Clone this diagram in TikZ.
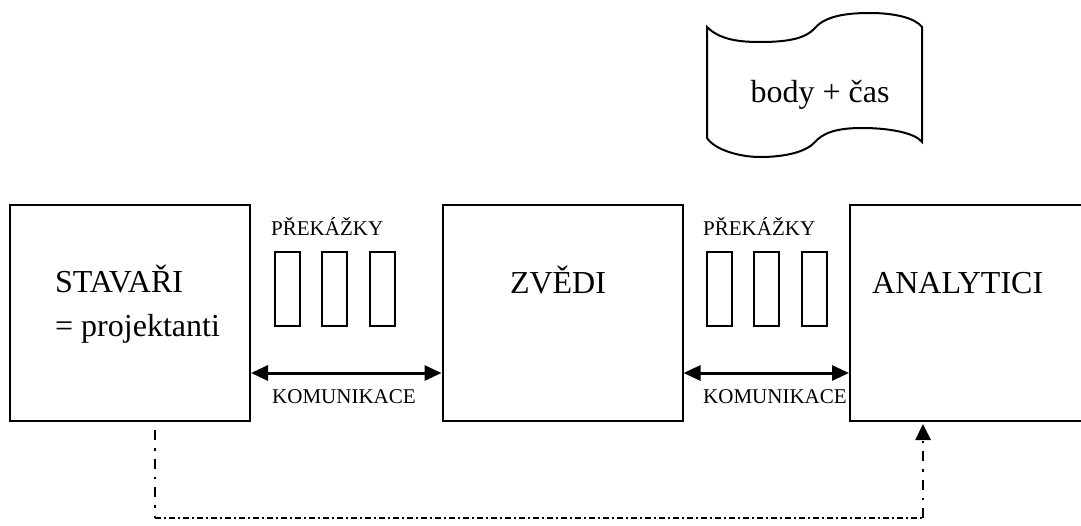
\documentclass[tikz,border=0pt]{standalone}
\usepackage{fontspec}
\setmainfont{Liberation Serif}
\usetikzlibrary{arrows.meta}
\begin{document}
\begin{tikzpicture}[x=1pt,y=-1pt,
  bigtext/.style={font=\fontsize{32}{38}\selectfont, inner sep=0pt},
  smalltext/.style={font=\fontsize{21}{25}\selectfont, inner sep=0pt},
  actor/.style={draw, line width=2pt, minimum width=240pt, minimum height=216pt, inner sep=0pt},
  barrier/.style={draw, line width=2pt, minimum width=25pt, minimum height=74pt, inner sep=0pt},
  comm/.style={line width=3pt, {Triangle[width=15pt,length=17pt]}-{Triangle[width=15pt,length=17pt]}},
  feedback/.style={line width=2.6pt, dash pattern=on 10pt off 8pt on 2.5pt off 8pt},
  feedbackh/.style={line width=2.4pt, dash pattern=on 6pt off 3pt on 2pt off 3pt}
]
\useasboundingbox (0,0) rectangle (1081,525);

% the three parties
\node[actor] (stav) at (130,313) {};
\node[actor] (zved) at (562.5,313) {};
\node[actor] (anal) at (970,313) {};
\fill[white] (1082,190) rectangle (1100,440);

\node[bigtext, anchor=base west] (stavT) at (55,292) {STAVAŘI};
\node[bigtext, anchor=base west] (stavP) at (55,336) {= projektanti};
\node[bigtext, anchor=base] (zvedT) at (558,293) {ZVĚDI};
\node[bigtext, anchor=base west] (analT) at (872,293) {ANALYTICI};

% obstacles between the parties
\node[smalltext, anchor=base west] (p1) at (271,235) {PŘEKÁŽKY};
\node[barrier] (b11) at (287,289) {};
\node[barrier] (b12) at (334.5,289) {};
\node[barrier] (b13) at (382.5,289) {};
\node[smalltext, anchor=base west] (p2) at (703,235) {PŘEKÁŽKY};
\node[barrier] (b21) at (719,289) {};
\node[barrier] (b22) at (766.5,289) {};
\node[barrier] (b23) at (814.5,289) {};

% communication channels
\coordinate (c1a) at (stav.east |- 0,373);
\coordinate (c1b) at (zved.west |- 0,373);
\coordinate (c2a) at (zved.east |- 0,373);
\coordinate (c2b) at (anal.west |- 0,373);
\draw[comm] (c1a) -- (c1b);
\draw[comm] (c2a) -- (c2b);
\node[smalltext, anchor=base west] (k1) at (272,403) {KOMUNIKACE};
\node[smalltext, anchor=base west] (k2) at (703,403) {KOMUNIKACE};

% document: points + time
\draw[line width=2pt]
  (707,27) .. controls (720,40) and (740,42) .. (760,42)
  .. controls (790,42) and (806,38) .. (815,28)
  .. controls (826,15) and (850,13) .. (870,13)
  .. controls (895,13) and (915,18) .. (922,27)
  -- (922,142)
  .. controls (915,133) and (890,128) .. (862,128)
  .. controls (836,128) and (823,133) .. (815,142)
  .. controls (806,152) and (785,157) .. (760,157)
  .. controls (740,157) and (715,150) .. (707,138)
  -- cycle;
\node[bigtext, anchor=base] (doc) at (820,102) {body + čas};

% feedback path from STAVAŘI to ANALYTICI
\coordinate (f0) at (155,430);
\coordinate (f1) at (155,518);
\coordinate (f2) at (923,518);
\coordinate (f3) at (923,424);
\draw[feedback] (f0) -- (f1);
\draw[feedbackh] (f1) -- (f2);
\draw[feedback, -{Triangle[width=15pt,length=16pt]}] (f2) -- (f3);
\end{tikzpicture}
\end{document}
